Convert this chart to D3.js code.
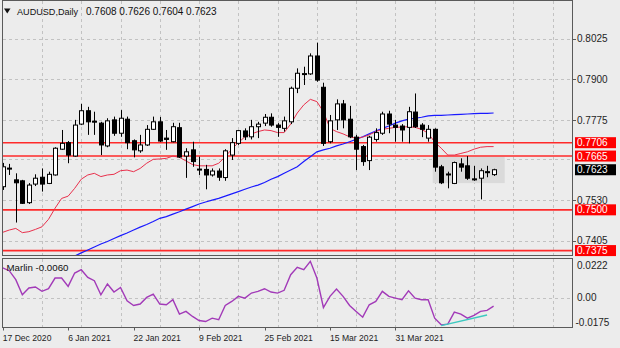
<!DOCTYPE html>
<html>
<head>
<meta charset="utf-8">
<script src="https://cdn.jsdelivr.net/npm/d3@7"></script>
<style>
  html, body { margin: 0; padding: 0; background: #ececec; }
  svg { display: block; font-family: "Liberation Sans", Arial, sans-serif; }
</style>
</head>
<body>
<svg id="chart" width="620" height="348"></svg>
<script>
// ---- AUDUSD daily bars ----
const opens = [
  0.7571, 0.7628, 0.7592, 0.7589, 0.7522, 0.7579, 0.7600, 0.7581, 0.7607, 0.7686,
  0.7706, 0.7665, 0.7763, 0.7804, 0.7772, 0.7766, 0.7696, 0.7776, 0.7735, 0.7778,
  0.7712, 0.7681, 0.7699, 0.7747, 0.7770, 0.7720, 0.7709, 0.7752, 0.7665, 0.7684,
  0.7623, 0.7624, 0.7607, 0.7619, 0.7599, 0.7668, 0.7704, 0.7742, 0.7724, 0.7755,
  0.7766, 0.7784, 0.7760, 0.7750, 0.7770, 0.7873, 0.7915, 0.7917, 0.7972, 0.7876,
  0.7709, 0.7776, 0.7825, 0.7778, 0.7723, 0.7694, 0.7651, 0.7716, 0.7735, 0.7794,
  0.7760, 0.7757, 0.7753, 0.7800, 0.7760, 0.7720, 0.7747, 0.7632, 0.7610, 0.7581,
  0.7641, 0.7635, 0.7595, 0.7597, 0.7617, 0.7608
];
const highs = [
  0.7644, 0.7641, 0.7612, 0.7592, 0.7582, 0.7609, 0.7627, 0.7617, 0.7692, 0.7745,
  0.7711, 0.7776, 0.7825, 0.7816, 0.7801, 0.7770, 0.7781, 0.7786, 0.7806, 0.7786,
  0.7716, 0.7730, 0.7760, 0.7786, 0.7785, 0.7745, 0.7767, 0.7767, 0.7689, 0.7709,
  0.7663, 0.7638, 0.7627, 0.7627, 0.7686, 0.7720, 0.7745, 0.7750, 0.7776, 0.7770,
  0.7794, 0.7796, 0.7766, 0.7786, 0.7878, 0.7934, 0.7939, 0.7980, 0.8013, 0.7890,
  0.7791, 0.7839, 0.7837, 0.7819, 0.7730, 0.7699, 0.7727, 0.7750, 0.7801, 0.7804,
  0.7776, 0.7763, 0.7816, 0.7857, 0.7766, 0.7760, 0.7750, 0.7638, 0.7617, 0.7648,
  0.7658, 0.7665, 0.7635, 0.7627, 0.7635, 0.7626
];
const lows = [
  0.7561, 0.7607, 0.7461, 0.7518, 0.7518, 0.7573, 0.7556, 0.7579, 0.7605, 0.7684,
  0.7643, 0.7663, 0.7760, 0.7730, 0.7730, 0.7668, 0.7692, 0.7727, 0.7724, 0.7686,
  0.7661, 0.7675, 0.7696, 0.7745, 0.7708, 0.7684, 0.7707, 0.7659, 0.7598, 0.7632,
  0.7607, 0.7563, 0.7602, 0.7589, 0.7589, 0.7653, 0.7699, 0.7714, 0.7716, 0.7720,
  0.7757, 0.7755, 0.7724, 0.7740, 0.7763, 0.7858, 0.7883, 0.7914, 0.7893, 0.7696,
  0.7704, 0.7745, 0.7750, 0.7720, 0.7622, 0.7635, 0.7622, 0.7709, 0.7730, 0.7735,
  0.7709, 0.7709, 0.7704, 0.7751, 0.7723, 0.7709, 0.7617, 0.7579, 0.7566, 0.7579,
  0.7617, 0.7592, 0.7589, 0.7532, 0.7600, 0.7604
];
const closes = [
  0.7632, 0.7625, 0.7583, 0.7520, 0.7576, 0.7597, 0.7579, 0.7609, 0.7689, 0.7704,
  0.7668, 0.7760, 0.7804, 0.7770, 0.7769, 0.7699, 0.7773, 0.7735, 0.7781, 0.7706,
  0.7684, 0.7699, 0.7747, 0.7770, 0.7711, 0.7716, 0.7755, 0.7662, 0.7678, 0.7648,
  0.7625, 0.7607, 0.7619, 0.7600, 0.7681, 0.7706, 0.7743, 0.7724, 0.7755, 0.7763,
  0.7784, 0.7760, 0.7753, 0.7773, 0.7873, 0.7919, 0.7918, 0.7972, 0.7898, 0.7704,
  0.7773, 0.7825, 0.7776, 0.7724, 0.7686, 0.7648, 0.7723, 0.7737, 0.7794, 0.7763,
  0.7753, 0.7745, 0.7801, 0.7755, 0.7747, 0.7747, 0.7631, 0.7583, 0.7607, 0.7645,
  0.7631, 0.7597, 0.7592, 0.7620, 0.7616, 0.7623
];

// fast moving average (red)
const fastMA = [
  0.7431, 0.7438, 0.7443, 0.7430, 0.7433, 0.7440, 0.7448, 0.7471, 0.7505, 0.7535,
  0.7542, 0.7566, 0.7594, 0.7607, 0.7612, 0.7602, 0.7607, 0.7609, 0.7620, 0.7622,
  0.7617, 0.7627, 0.7643, 0.7655, 0.7656, 0.7658, 0.7665, 0.7661, 0.7650, 0.7639,
  0.7635, 0.7635, 0.7635, 0.7643, 0.7663, 0.7686, 0.7706, 0.7724, 0.7733, 0.7740,
  0.7745, 0.7743, 0.7737, 0.7737, 0.7763, 0.7797, 0.7822, 0.7839, 0.7832, 0.7801,
  0.7750, 0.7740, 0.7733, 0.7724, 0.7720, 0.7723, 0.7730, 0.7740, 0.7747, 0.7750,
  0.7753, 0.7754, 0.7755, 0.7753, 0.7747, 0.7735, 0.7708, 0.7689, 0.7668, 0.7668,
  0.7673, 0.7678, 0.7686, 0.7692, 0.7694, 0.7694
];

// slow moving average (blue); its earlier values lie below the visible range
const slowMA = [
  null, null, null, null, null, null, null, null, null, null,
  0.7349, 0.7358, 0.7368, 0.7377, 0.7386, 0.7395, 0.7403, 0.7412, 0.7421, 0.7429,
  0.7438, 0.7447, 0.7455, 0.7464, 0.7474, 0.7479, 0.7487, 0.7494, 0.7502, 0.7510,
  0.7518, 0.7524, 0.7530, 0.7535, 0.7542, 0.7549, 0.7556, 0.7563, 0.7570, 0.7576,
  0.7584, 0.7594, 0.7602, 0.7612, 0.7622, 0.7632, 0.7648, 0.7663, 0.7678, 0.7684,
  0.7689, 0.7696, 0.7702, 0.7709, 0.7716, 0.7724, 0.7733, 0.7742, 0.7750, 0.7757,
  0.7766, 0.7773, 0.7778, 0.7781, 0.7784, 0.7788, 0.7790, 0.7790, 0.7791, 0.7792,
  0.7793, 0.7794, 0.7795, 0.7796, 0.7796, 0.7797
];

// Marlin oscillator
const marlin = [
  0.0205, 0.0186, 0.0124, 0.0019, 0.0066, 0.0073, 0.0043, 0.0061, 0.0135, 0.0135,
  0.0077, 0.0170, 0.0193, 0.0140, 0.0117, 0.0019, 0.0094, 0.0038, 0.0070, -0.0022,
  -0.0055, -0.0045, 0.0001, 0.0024, -0.0045, -0.0050, -0.0015, -0.0115, -0.0096, -0.0131,
  -0.0159, -0.0166, -0.0143, -0.0154, -0.0055, -0.0027, 0.0008, -0.0004, 0.0031, 0.0043,
  0.0061, 0.0038, 0.0031, 0.0050, 0.0158, 0.0209, 0.0193, 0.0251, 0.0135, -0.0069,
  0.0008, 0.0059, 0.0008, -0.0055, -0.0096, -0.0136, -0.0050, -0.0027, 0.0043, 0.0008,
  -0.0004, -0.0015, 0.0047, -0.0004, -0.0015, -0.0015, -0.0143, -0.0189, -0.0184, -0.0101,
  -0.0115, -0.0143, -0.0124, -0.0096, -0.0089, -0.0060
];

// divergence trend line on the oscillator
const trendBars = [67, 74];
const trendValues = [-0.0195, -0.0121];

// horizontal levels, shaded range and axis ticks
const levels = [0.7706, 0.7665, 0.7500, 0.7375];
const zoneBars = [65.7, 76.7];
const zonePrices = [0.7662, 0.7582];
const priceGrid = [0.8025, 0.7900, 0.7775, 0.7655, 0.7530, 0.7405];
const priceLabels = [0.8025, 0.7900, 0.7775, 0.7530, 0.7405];
const oscTicks = [0.0222, 0, -0.0175];
const oscTickText = ["0.0222", "0.00", "-0.0175"];
const dateBars = [0, 10, 20, 30, 40, 50, 60];
const dateText = ["17 Dec 2020", "6 Jan 2021", "22 Jan 2021", "9 Feb 2021",
                  "25 Feb 2021", "15 Mar 2021", "31 Mar 2021"];
const gridBars = d3.range(6, 90, 6);

const symbol = "AUDUSD,Daily";
const lastBar = opens.length - 1;
const ohlcText = [opens[lastBar], highs[lastBar], lows[lastBar], closes[lastBar]]
  .map(v => v.toFixed(4)).join(" ");

// ---- layout ----
const main = { left: 2.5, right: 572.5, top: 0.5, bottom: 255.5 };
const osc  = { left: 2.5, right: 572.5, top: 258.5, bottom: 327.5 };

const svg = d3.select("#chart");
const x  = d3.scaleLinear().domain([0, 75]).range([2.7, 493.6]);
const y  = d3.scaleLinear().domain([0.8025, 0.7405]).range([38.7, 240.8]);
const yo = d3.scaleLinear().domain([0.0222, -0.0175]).range([265.5, 322.8]);

svg.append("rect").attr("width", 620).attr("height", 348).attr("fill", "#ececec");

const defs = svg.append("defs");
defs.append("clipPath").attr("id", "clipMain").append("rect")
  .attr("x", main.left).attr("y", main.top)
  .attr("width", main.right - main.left).attr("height", main.bottom - main.top);
defs.append("clipPath").attr("id", "clipOsc").append("rect")
  .attr("x", osc.left).attr("y", osc.top)
  .attr("width", osc.right - osc.left).attr("height", osc.bottom - osc.top);

const gMain = svg.append("g").attr("clip-path", "url(#clipMain)");
const gOsc  = svg.append("g").attr("clip-path", "url(#clipOsc)");

const gridStyle = sel => sel.attr("stroke", "#c2c2c2").attr("stroke-width", 1)
  .attr("stroke-dasharray", "3,3").attr("shape-rendering", "crispEdges");

// grid, main panel
gMain.selectAll("line.vg").data(gridBars).join("line").attr("class", "vg")
  .attr("x1", d => Math.round(x(d)) + 0.5).attr("x2", d => Math.round(x(d)) + 0.5)
  .attr("y1", main.top).attr("y2", main.bottom).call(gridStyle);
gMain.selectAll("line.hg").data(priceGrid).join("line").attr("class", "hg")
  .attr("x1", main.left).attr("x2", main.right)
  .attr("y1", d => Math.round(y(d)) + 0.5).attr("y2", d => Math.round(y(d)) + 0.5)
  .call(gridStyle);

// grid, oscillator panel
gOsc.selectAll("line.vg").data(gridBars).join("line").attr("class", "vg")
  .attr("x1", d => Math.round(x(d)) + 0.5).attr("x2", d => Math.round(x(d)) + 0.5)
  .attr("y1", osc.top).attr("y2", osc.bottom).call(gridStyle);
gOsc.append("line")
  .attr("x1", osc.left).attr("x2", osc.right)
  .attr("y1", Math.round(yo(0)) + 0.5).attr("y2", Math.round(yo(0)) + 0.5)
  .call(gridStyle);

// shaded consolidation range
gMain.append("rect")
  .attr("x", x(zoneBars[0])).attr("width", x(zoneBars[1]) - x(zoneBars[0]))
  .attr("y", y(zonePrices[0])).attr("height", y(zonePrices[1]) - y(zonePrices[0]))
  .attr("fill", "#dadada");

// support / resistance levels
gMain.selectAll("line.lvl").data(levels).join("line").attr("class", "lvl")
  .attr("x1", main.left).attr("x2", main.right)
  .attr("y1", d => y(d)).attr("y2", d => y(d))
  .attr("stroke", "#ff2a2a").attr("stroke-width", 1.6);

// moving averages
const idx = d3.range(opens.length);
const maLine = arr => d3.line()
  .defined(i => arr[i] != null)
  .x(i => x(i)).y(i => y(arr[i]));
gMain.append("path").attr("d", maLine(slowMA)(idx))
  .attr("fill", "none").attr("stroke", "#1a1aff").attr("stroke-width", 1.2);
gMain.append("path").attr("d", maLine(fastMA)(idx))
  .attr("fill", "none").attr("stroke", "#e8304c").attr("stroke-width", 1);

// candlesticks
const candles = gMain.selectAll("g.bar").data(idx).join("g").attr("class", "bar");
candles.append("line")
  .attr("x1", i => Math.round(x(i)) + 0.5).attr("x2", i => Math.round(x(i)) + 0.5)
  .attr("y1", i => y(highs[i])).attr("y2", i => y(lows[i]))
  .attr("stroke", "#000").attr("stroke-width", 1);
candles.append("rect")
  .attr("x", i => Math.round(x(i)) - 1.5)
  .attr("width", 4)
  .attr("y", i => y(Math.max(opens[i], closes[i])))
  .attr("height", i => Math.max(1, y(Math.min(opens[i], closes[i])) - y(Math.max(opens[i], closes[i]))))
  .attr("fill", i => closes[i] >= opens[i] ? "#ffffff" : "#000000")
  .attr("stroke", "#000").attr("stroke-width", 1);

// oscillator
gOsc.append("path").attr("d", d3.line().x(i => x(i)).y(i => yo(marlin[i]))(idx))
  .attr("fill", "none").attr("stroke", "#a23ab8").attr("stroke-width", 1.4);
gOsc.append("path")
  .attr("d", d3.line().x(i => x(trendBars[i])).y(i => yo(trendValues[i]))([0, 1]))
  .attr("fill", "none").attr("stroke", "#3cc9c0").attr("stroke-width", 1.4);

// panel frames
[main, osc].forEach(p => {
  svg.append("rect").attr("x", p.left).attr("y", p.top)
    .attr("width", p.right - p.left).attr("height", p.bottom - p.top)
    .attr("fill", "none").attr("stroke", "#5a5a5a").attr("stroke-width", 1)
    .attr("shape-rendering", "crispEdges");
});

// price axis
const axisText = "#1e1e1e";
svg.selectAll("line.ptk").data(priceLabels).join("line").attr("class", "ptk")
  .attr("x1", main.right).attr("x2", main.right + 3.5)
  .attr("y1", d => Math.round(y(d)) + 0.5).attr("y2", d => Math.round(y(d)) + 0.5)
  .attr("stroke", "#5a5a5a");
svg.selectAll("text.ptx").data(priceLabels).join("text").attr("class", "ptx")
  .attr("x", 577).attr("y", d => y(d)).attr("dy", "0.36em")
  .attr("font-size", 10).attr("fill", axisText)
  .text(d => d.toFixed(4));

// level tags
const tags = levels.map(v => ({ v, fill: "#ff0000" }))
  .concat([{ v: closes[lastBar], fill: "#000000" }]);
const tagG = svg.selectAll("g.tag").data(tags).join("g").attr("class", "tag");
tagG.append("rect")
  .attr("x", 575).attr("width", 41).attr("y", d => y(d.v) - 5.5).attr("height", 11)
  .attr("fill", d => d.fill);
tagG.append("text")
  .attr("x", 577).attr("y", d => y(d.v)).attr("dy", "0.36em")
  .attr("font-size", 10).attr("fill", "#ffffff")
  .text(d => d.v.toFixed(4));

// oscillator axis
svg.selectAll("text.otx").data(oscTicks).join("text").attr("class", "otx")
  .attr("x", (d, i) => i === 2 ? 575.5 : 577).attr("y", d => yo(d)).attr("dy", "0.36em")
  .attr("font-size", 10).attr("fill", axisText)
  .text((d, i) => oscTickText[i]);

// time axis
svg.selectAll("line.ttk").data(dateBars).join("line").attr("class", "ttk")
  .attr("x1", d => Math.round(x(d)) + 0.5).attr("x2", d => Math.round(x(d)) + 0.5)
  .attr("y1", osc.bottom).attr("y2", osc.bottom + 3)
  .attr("stroke", "#5a5a5a");
svg.selectAll("text.ttx").data(dateBars).join("text").attr("class", "ttx")
  .attr("x", d => x(d)).attr("y", 341)
  .attr("font-size", 8.6).attr("fill", axisText)
  .text((d, i) => dateText[i]);

// title
svg.append("path").attr("d", "M4,8.5 L10.5,8.5 L7.25,13.5 Z").attr("fill", "#111");
svg.append("text").attr("x", 17).attr("y", 15)
  .attr("font-size", 9.1).attr("fill", "#111").text(symbol);
svg.append("text").attr("x", 86).attr("y", 15)
  .attr("font-size", 10).attr("fill", "#111").text(ohlcText);

// oscillator caption
svg.append("text").attr("x", 6.5).attr("y", 270.5)
  .attr("font-size", 9.7).attr("fill", "#111")
  .text("Marlin " + marlin[lastBar].toFixed(4));
</script>
</body>
</html>
